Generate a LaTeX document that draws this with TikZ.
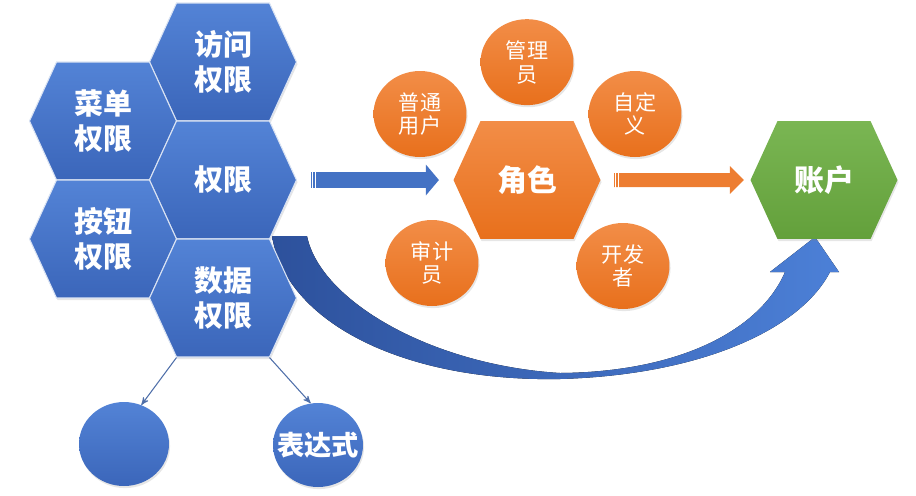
\documentclass[tikz,border=0pt]{standalone}
\usepackage{fontspec}
\newfontfamily\cjk{Noto Sans CJK SC}
\usepackage{tikz}
\usetikzlibrary{positioning}
\usetikzlibrary{arrows}
\usetikzlibrary{arrows.meta}
\usetikzlibrary{shapes,shadows}
\definecolor{hexblue}{HTML}{4472C4}
\definecolor{hexbluetop}{HTML}{5383D6}
\definecolor{hexbluebot}{HTML}{3B66BA}
\definecolor{hexorange}{HTML}{ED7D31}
\definecolor{hexorangetop}{HTML}{F28D47}
\definecolor{hexorangebot}{HTML}{E8701C}
\definecolor{hexgreentop}{HTML}{7AB653}
\definecolor{hexgreenbot}{HTML}{63A03B}
\definecolor{curvedark}{HTML}{2D519C}
\definecolor{curvelight}{HTML}{4C80D7}
\definecolor{thinline}{HTML}{4F6FA9}
\tikzset{hex node/.style={signal,signal to=east and west,signal pointer angle=130.8,
    minimum width=2.94cm,minimum height=2.36cm,inner sep=0pt,align=center,text=white,
    draw=white!80!hexblue,line width=0.6pt,top color=hexbluetop,bottom color=hexbluebot,
    drop shadow={opacity=0.2,shadow xshift=0.6pt,shadow yshift=-1.2pt},
    font=\cjk\bfseries\fontsize{16.5}{20}\selectfont},
  role node/.style={ellipse,minimum width=1.86cm,minimum height=1.72cm,inner sep=0pt,
    align=center,text=white,top color=hexorangetop,bottom color=hexorangebot,
    drop shadow={opacity=0.2,shadow xshift=0.6pt,shadow yshift=-1.2pt},
    font=\cjk\fontsize{12}{13.5}\selectfont},
  sub node/.style={ellipse,minimum width=1.8cm,minimum height=1.68cm,inner sep=0pt,
    inner xsep=-0.2cm,text=white,top color=hexbluetop,bottom color=hexbluebot,
    drop shadow={opacity=0.2,shadow xshift=0.6pt,shadow yshift=-1.2pt},
    font=\cjk\bfseries\fontsize{15.5}{18}\selectfont},}

\begin{document}
\begin{tikzpicture}[x=0.02cm,y=-0.02cm,>=stealth']
    \useasboundingbox (0,0) rectangle (916,495);

    % curved arrow to the account
    \fill[left color=curvedark,right color=curvelight]
      (272,236) .. controls (285,320) and (400,382) .. (560,379)
      .. controls (700,375) and (800,330) .. (830,272) -- (839,272) -- (815,237)
      -- (770,272) -- (785,272) .. controls (760,330) and (680,372) .. (560,373)
      .. controls (430,365) and (320,300) .. (307,236) -- cycle;

    \node[hex node] (visit) at (223,62) {访问\\权限};
    \node[hex node] (menu) at (103,121) {菜单\\权限};
    \node[hex node] (perm) at (223,180) {权限};
    \node[hex node] (button) at (103,239) {按钮\\权限};
    \node[hex node] (data) at (223,298) {数据\\权限};

    \node[hex node,top color=hexorangetop,bottom color=hexorangebot,draw=none,
      font=\cjk\bfseries\fontsize{17}{20}\selectfont] (role) at (527,180) {角色};
    \node[hex node,top color=hexgreentop,bottom color=hexgreenbot,draw=none,
      font=\cjk\bfseries\fontsize{17}{20}\selectfont] (account) at (824,180) {账户};

    \node[role node] (admin) [above = 0.3cm of role] {管理\\员};
    \node[role node] (user) at (420,114) {普通\\用户};
    \node[role node] (custom) at (635,114) {自定\\义};
    \node[role node] (audit) at (432,263) {审计\\员};
    \node[role node] (dev) at (623,266) {开发\\者};

    \node[sub node] (blank) at (124,444) {};
    \node[sub node] (expr) at (318,445) {表达式};

    \draw[->,thinline,line width=0.6pt] ([xshift=-0.93cm]data.south) -- (blank.66);
    \draw[->,thinline,line width=0.6pt] ([xshift=0.93cm]data.south) -- (expr.100);

    \draw[hexblue,line width=0.32cm,shorten <=0.28cm,shorten >=0.28cm,
      -{Triangle[length=0.26cm,width=0.6cm]}] (perm) -- (role);
    \draw[hexorange,line width=0.28cm,shorten <=0.26cm,shorten >=0.12cm,
      -{Triangle[length=0.28cm,width=0.54cm]}] (role) -- (account);
    \draw[white,line width=0.5pt] ([xshift=0.31cm,yshift=0.2cm]perm.east) -- ++(0,22);
    \draw[white,line width=0.5pt] ([xshift=0.36cm,yshift=0.2cm]perm.east) -- ++(0,22);
    \draw[white,line width=0.5pt] ([xshift=0.29cm,yshift=0.2cm]role.east) -- ++(0,22);
    \draw[white,line width=0.5pt] ([xshift=0.34cm,yshift=0.2cm]role.east) -- ++(0,22);
\end{tikzpicture}
\end{document}
